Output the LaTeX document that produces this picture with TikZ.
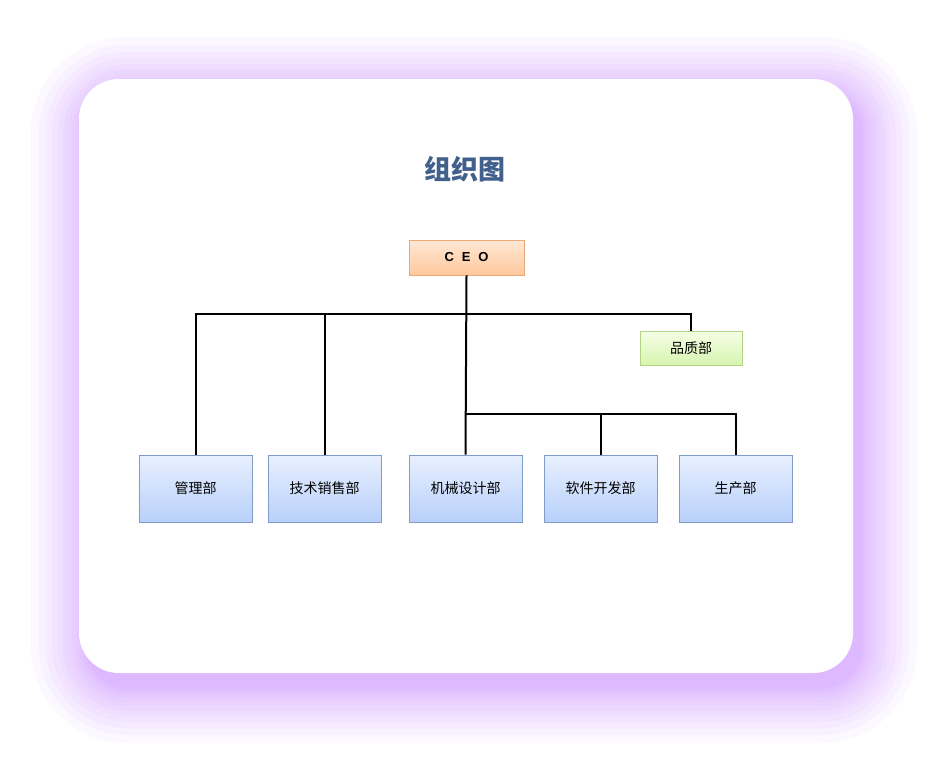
\documentclass[tikz,border=0pt]{standalone}
\usepackage{fontspec}
\newfontfamily\cjk{Noto Sans CJK SC}
\newfontfamily\lat{Liberation Sans}
\definecolor{glowc}{RGB}{200,130,255}
\definecolor{titlec}{RGB}{66,96,140}
\definecolor{bluetop}{RGB}{232,240,255}
\definecolor{bluebot}{RGB}{184,208,250}
\definecolor{blueedge}{RGB}{128,156,200}
\definecolor{ortop}{RGB}{255,232,212}
\definecolor{orbot}{RGB}{255,200,158}
\definecolor{oredge}{RGB}{236,170,120}
\definecolor{grtop}{RGB}{246,255,230}
\definecolor{grbot}{RGB}{214,244,176}
\definecolor{gredge}{RGB}{176,212,130}
\tikzset{
  dept/.style={draw=blueedge, line width=0.8pt, top color=bluetop, bottom color=bluebot,
    minimum width=113pt, minimum height=67pt, inner sep=0pt, font=\cjk\fontsize{14}{16}\selectfont},
  ceobox/.style={draw=oredge, line width=0.8pt, top color=ortop, bottom color=orbot,
    minimum width=115pt, minimum height=35pt, inner sep=0pt, font=\lat\bfseries\fontsize{13}{15}\selectfont},
  qbox/.style={draw=gredge, line width=0.8pt, top color=grtop, bottom color=grbot,
    minimum width=102pt, minimum height=34pt, inner sep=0pt, font=\cjk\fontsize{14}{16}\selectfont},
  conn/.style={draw=black, line width=2pt},
  titletext/.style={font=\cjk\bfseries\fontsize{27}{30}\selectfont, text=titlec}
}
\begin{document}
\begin{tikzpicture}[x=1pt,y=-1pt]
\useasboundingbox (0,0) rectangle (952,772);
\fill[white] (0,0) rectangle (952,772);
% glow
\foreach \i in {56,48,41,35,29,24,19,15,11,8,5,3,1} {
  \fill[glowc, opacity=0.055, rounded corners={40+\i}] ({79-\i+8},{79-\i+14}) rectangle ({853+\i+8},{673+\i+14});
}
\fill[white, rounded corners=40] (79,79) rectangle (853,673);
% title
\node[titletext] (title) at (465,169) {组织图};
% nodes
\node[ceobox] (ceo) at (466.5,257.5) {C\hspace{0.6em}E\hspace{0.6em}O};
\node[qbox] (pz) at (691,348) {品质部};
\node[dept] (gl) at (195.5,488.5) {管理部};
\node[dept] (js) at (324.5,488.5) {技术销售部};
\node[dept] (jx) at (465.5,488.5) {机械设计部};
\node[dept] (rj) at (600.5,488.5) {软件开发部};
\node[dept] (sc) at (735.5,488.5) {生产部};
\coordinate (bus1) at (466,314);
\coordinate (bus2) at (466,414);
% connectors
\draw[conn] (ceo.south) -- (jx.north);
\draw[conn] (gl.north) |- (bus1) -| (pz.north);
\draw[conn] (js.north) -- (js.north |- bus1);
\draw[conn] (jx.north |- bus2) -| (sc.north);
\draw[conn] (rj.north) -- (rj.north |- bus2);
\end{tikzpicture}
\end{document}
